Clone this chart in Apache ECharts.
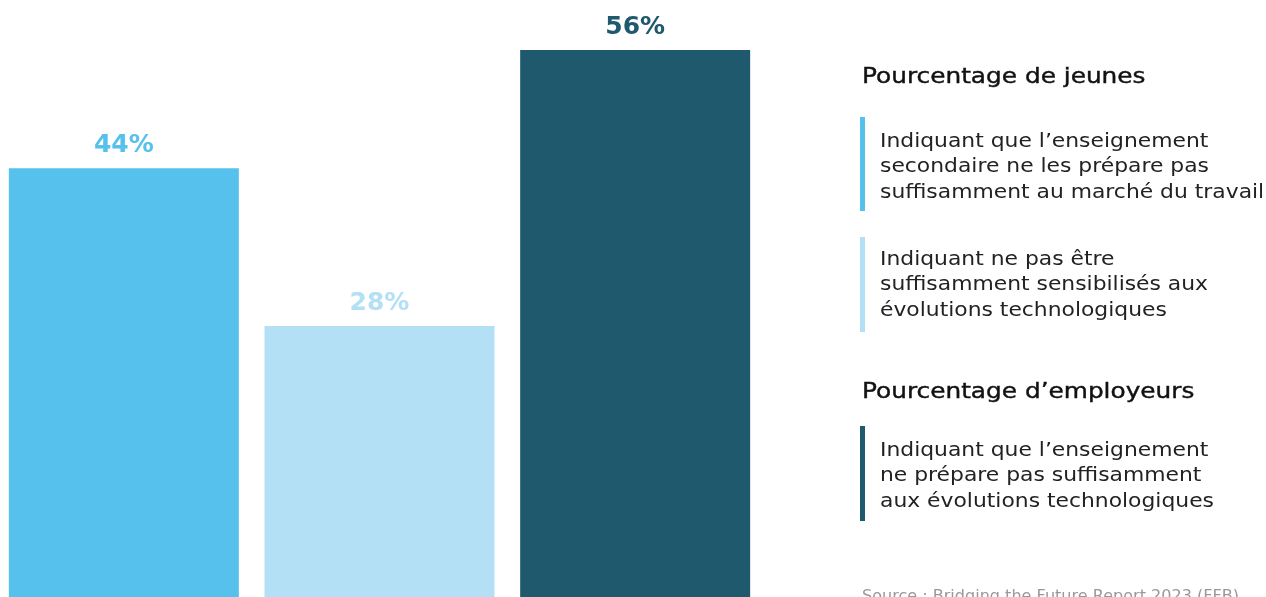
<!DOCTYPE html>
<html>
<head>
<meta charset="utf-8">
<script src="https://cdn.jsdelivr.net/npm/echarts@6/dist/echarts.min.js"></script>
<style>
html,body{margin:0;padding:0;background:#fff;overflow:hidden;width:1266px;height:597px;}
#chart{position:absolute;left:-4px;top:0;width:1270px;height:602px;}
</style>
</head>
<body>
<div id="chart"></div>
<script>
const categories = ['Jeunes - enseignement secondaire', 'Jeunes - évolutions technologiques', 'Employeurs - évolutions technologiques'];
const values = [44, 28, 56];
const barColors = ['#55c1ec', '#b3e0f5', '#1f596d'];
const groupTitles = ['Pourcentage de jeunes', 'Pourcentage d\u2019employeurs'];
const legendTexts = [
  'Indiquant que l\u2019enseignement\nsecondaire ne les prépare pas\nsuffisamment au marché du travail',
  'Indiquant ne pas être\nsuffisamment sensibilisés aux\névolutions technologiques',
  'Indiquant que l\u2019enseignement\nne prépare pas suffisamment\naux évolutions technologiques'
];
const sourceText = 'Source : Bridging the Future Report 2023 (FFB)';

const chart = echarts.init(document.getElementById('chart'), null, {renderer: 'canvas'});
const FONT = '"DejaVu Sans", sans-serif';
const X0 = 4; // container offset

const titleStyle = (t, y) => ({
  type: 'text', x: 862 + X0, y: y, scaleX: 1.18,
  style: {text: t, font: '400 21px ' + FONT, fill: '#111111', stroke: '#111111', lineWidth: 0.4, verticalAlign: 'top'}
});
const itemText = (t, y) => ({
  type: 'text', x: 880 + X0, y: y, scaleX: 1.15,
  style: {text: t, font: '400 19px ' + FONT, fill: '#222222', lineHeight: 25.5, verticalAlign: 'top'}
});
const itemBar = (c, y, h) => ({
  type: 'rect', x: 860 + X0, y: y,
  shape: {width: 5, height: h},
  style: {fill: c}
});

chart.setOption({
  animation: false,
  grid: {left: 0, right: 503, top: 50, bottom: 0, containLabel: false},
  xAxis: {type: 'category', data: categories, show: false},
  yAxis: {type: 'value', min: 0, max: 56, show: false, splitLine: {show: false}},
  series: [{
    type: 'bar',
    barWidth: 230,
    data: values.map((v, i) => ({value: v, itemStyle: {color: barColors[i]}, label: {color: barColors[i]}})),
    label: {
      show: true, position: 'top', distance: 10,
      formatter: '{c}%',
      fontFamily: FONT, fontSize: 25, fontWeight: 700
    }
  }],
  graphic: [
    titleStyle(groupTitles[0], 67),
    itemBar(barColors[0], 117, 94),
    itemText(legendTexts[0], 129),
    itemBar(barColors[1], 237, 95),
    itemText(legendTexts[1], 247),
    titleStyle(groupTitles[1], 382),
    itemBar(barColors[2], 426, 95),
    itemText(legendTexts[2], 438),
    {type: 'text', x: 862 + X0, y: 590, scaleX: 1.07, style: {text: sourceText, font: '400 15px ' + FONT, fill: '#999999', verticalAlign: 'top'}}
  ]
});
</script>
</body>
</html>
